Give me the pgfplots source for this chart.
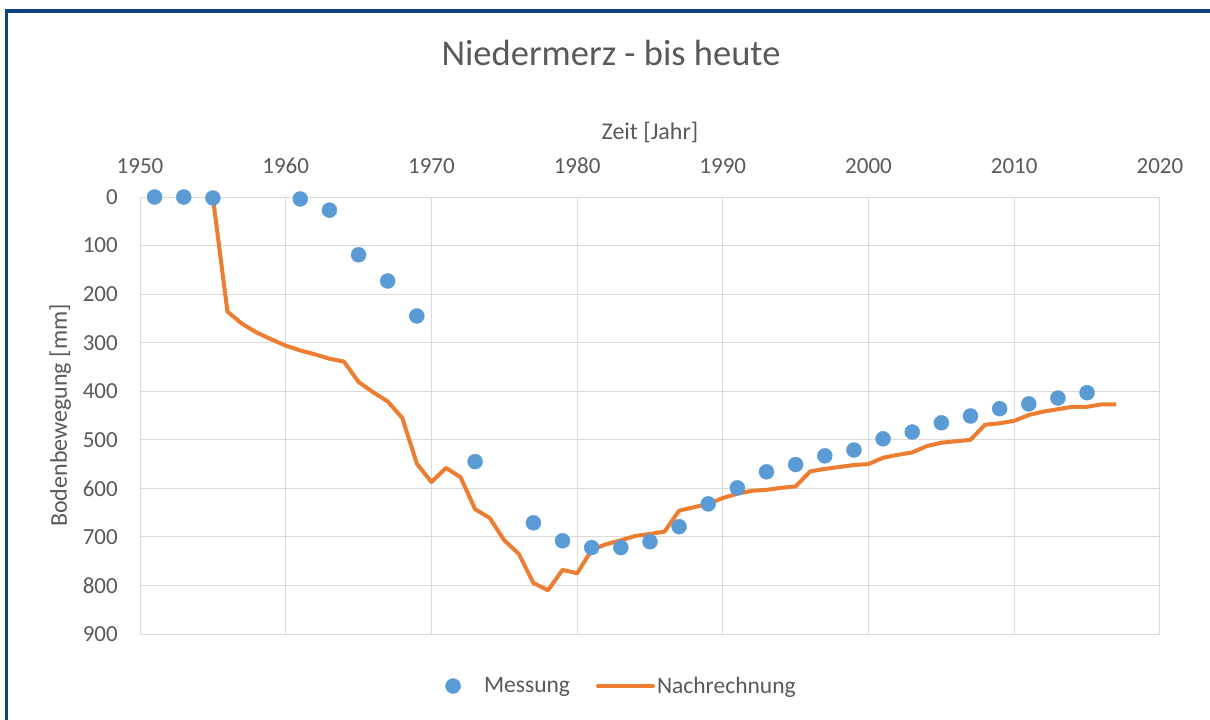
\documentclass[border=0pt]{standalone}
\usepackage{fontspec}
\setmainfont{Carlito}
\usepackage{pgfplots}
\pgfplotsset{compat=1.18}
\definecolor{mblue}{RGB}{91,155,213}
\definecolor{morange}{RGB}{237,125,49}
\definecolor{gridgray}{RGB}{217,217,217}
\definecolor{txtgray}{RGB}{89,89,89}
\definecolor{frameblue}{RGB}{14,66,128}
\pgfplotsset{
  dotlegend/.style={legend image code/.code={\draw[##1] plot coordinates {(0pt,0pt)}; \path[draw=none,fill=none] (-8pt,0pt) -- (29pt,0pt);}},
  linelegend/.style={legend image code/.code={\draw[##1, line cap=round] (0pt,0pt) -- (55pt,0pt);}},
}
\begin{document}
\begin{tikzpicture}
\path[use as bounding box] (0pt,0pt) rectangle (1210pt,-720pt);
\draw[line width=3.5pt, frameblue] (6.5pt,-740pt) -- (6.5pt,-11pt) -- (1230pt,-11pt);
\begin{axis}[
  at={(140pt,-634pt)}, anchor=south west,
  scale only axis, width=1020pt, height=437pt,
  xmin=1950, xmax=2020, ymin=0, ymax=900,
  y dir=reverse,
  xtick={1950,1960,...,2020}, ytick={0,100,...,900},
  xticklabel pos=top,
  axis line style={draw=none},
  major tick length=0pt,
  grid=major,
  major grid style={gridgray, line width=1pt},
  /pgf/number format/assume math mode=true,
  /pgf/number format/1000 sep={},
  tick label style={font=\fontsize{23}{27}\selectfont, text=txtgray},
  xticklabel style={anchor=base, inner sep=0pt, yshift=24pt},
  yticklabel style={anchor=east, inner sep=0pt, xshift=-22pt},
  xlabel={Zeit [Jahr]},
  xlabel style={at={(axis description cs:0.5,1)}, anchor=base, yshift=58pt, font=\fontsize{24}{28}\selectfont, text=txtgray},
  ylabel={Bodenbewegung [mm]},
  ylabel style={at={(axis description cs:-0.0716,0.5)}, anchor=base, rotate=0, font=\fontsize{24}{28}\selectfont, text=txtgray},
  title={Niedermerz - bis heute},
  title style={at={(axis description cs:0.4618,1)}, anchor=base, yshift=126pt, font=\fontsize{36.5}{42}\selectfont, text=txtgray},
  legend columns=2,
  legend style={at={(0.472,-0.119)}, anchor=center, draw=none, fill=none,
    font=\fontsize{23.5}{27}\selectfont, text=txtgray,
    /tikz/every even column/.append style={column sep=24pt}},
  clip=false,
]
\addplot[only marks, mark=*, mark size=7.5pt, mark options={fill=mblue, draw=mblue}, dotlegend]
coordinates {
(1951,0) (1953,0) (1955,2) (1961,4) (1963,27) (1965,119) (1967,173) (1969,245)
(1973,545) (1977,671) (1979,708) (1981,722) (1983,722) (1985,710) (1987,679)
(1989,632) (1991,599) (1993,566) (1995,551) (1997,533) (1999,521) (2001,498)
(2003,484) (2005,465) (2007,451) (2009,436) (2011,426) (2013,414) (2015,403)
};
\addlegendentry{Messung}
\addplot[morange, line width=4pt, line join=round, no marks, linelegend]
coordinates {
(1955,0) (1956,236) (1957,261) (1958,279) (1959,293) (1960,306) (1961,316)
(1962,324) (1963,333) (1964,339) (1965,381) (1966,402) (1967,421) (1968,455)
(1969,549) (1970,587) (1971,558) (1972,577) (1973,643) (1974,661) (1975,707)
(1976,735) (1977,795) (1978,810) (1979,768) (1980,775) (1981,727) (1982,715)
(1983,707) (1984,698) (1985,694) (1986,689) (1987,646) (1988,639) (1989,632)
(1990,620) (1991,611) (1992,605) (1993,603) (1994,599) (1995,596) (1996,565)
(1997,560) (1998,556) (1999,552) (2000,550) (2001,537) (2002,531) (2003,526)
(2004,513) (2005,506) (2006,503) (2007,500) (2008,469) (2009,466) (2010,461)
(2011,449) (2012,442) (2013,437) (2014,432) (2015,432) (2016,427) (2017,427)
};
\addlegendentry{Nachrechnung}
\end{axis}
\end{tikzpicture}
\end{document}
